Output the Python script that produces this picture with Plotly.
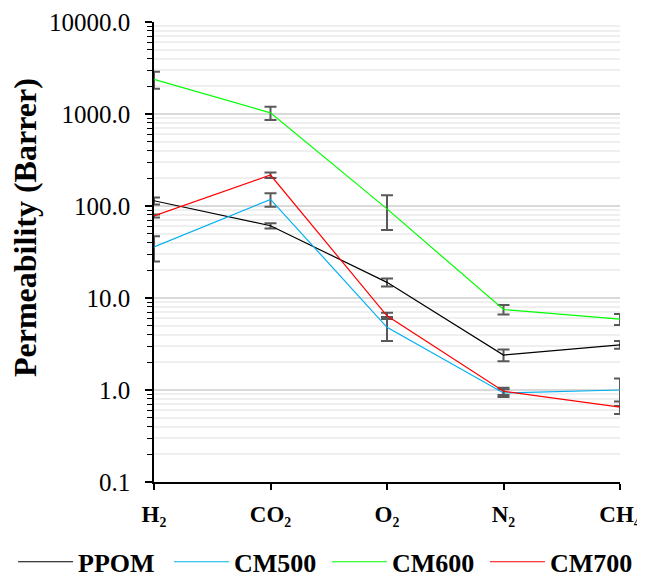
import plotly.graph_objects as go

gases = ["H₂", "CO₂", "O₂", "N₂", "CH₄"]

ppom = [114, 61, 14.8, 2.4, 3.1]
ppom_err = [10, 4, 1.5, 0.35, 0.3]

cm500 = [36, 118, 4.8, 0.93, 1.0]
cm500_err = [11, 20, 1.4, 0.09, 0.33]

cm600 = [2380, 1030, 93, 7.5, 5.9]
cm600_err = [500, 170, 38, 0.9, 0.8]

cm700 = [78, 217, 6.4, 0.97, 0.65]
cm700_err = [3, 15, 0.5, 0.09, 0.1]

series = [
    ("PPOM", ppom, ppom_err, "#000000"),
    ("CM500", cm500, cm500_err, "#00B0F0"),
    ("CM600", cm600, cm600_err, "#00FF00"),
    ("CM700", cm700, cm700_err, "#FF0000"),
]

FONT = "Liberation Serif, Times New Roman, serif"
legend_ids = ["legend", "legend2", "legend3", "legend4"]
legend_x = [0.0079, 0.2527, 0.5008, 0.7488]

fig = go.Figure()
for (name, vals, errs, col), lid in zip(series, legend_ids):
    fig.add_trace(go.Scatter(
        x=gases, y=vals, name=name, mode="lines",
        line=dict(color=col, width=1.2),
        error_y=dict(type="data", array=errs, visible=True,
                     color="#595959", thickness=2, width=6),
        legend=lid,
    ))

# page body has an 8px margin: figure is 637x571 drawn at (8, 8)
fig.update_layout(
    width=637, height=571,
    margin=dict(l=146, r=25, t=14, b=97, autoexpand=False),
    paper_bgcolor="white", plot_bgcolor="white",
    font=dict(family=FONT, color="black", size=24),
    showlegend=True,
)
for lid, lx in zip(legend_ids, legend_x):
    fig.update_layout({lid: dict(
        orientation="h", xref="container", yref="container",
        x=lx, xanchor="left", y=0.03, yanchor="middle",
        bgcolor="rgba(0,0,0,0)",
        font=dict(family=FONT, size=26, color="black", weight="bold"),
        itemwidth=55,
    )})

fig.update_xaxes(
    type="category", range=[0, 4], automargin=False,
    showline=True, linecolor="black", linewidth=1.5,
    ticks="outside", ticklen=6, tickcolor="black", tickwidth=1.5,
    showgrid=False, zeroline=False,
    tickfont=dict(family=FONT, size=23, color="black", weight="bold"),
    ticklabelstandoff=5,
)

fig.update_yaxes(
    type="log", range=[-1, 4], dtick=1, tickformat=".1f", automargin=False,
    showline=True, linecolor="black", linewidth=1.5,
    ticks="outside", ticklen=7, tickcolor="black", tickwidth=1.5,
    showgrid=True, gridcolor="#d9d9d9", gridwidth=2,
    zeroline=False,
    tickfont=dict(family=FONT, size=25, color="black"),
    ticklabelstandoff=10,
    minor=dict(ticks="outside", ticklen=5, tickcolor="black", tickwidth=1.2,
               showgrid=True, gridcolor="#efefef", gridwidth=1.5, dtick="D1"),
)

# y-axis title (centred a little above the plot middle, as in the reference)
fig.add_annotation(
    text="<b>Permeability (Barrer)</b>", textangle=-90,
    xref="paper", yref="paper", x=(25 - 154) / 466, y=(482 - 228) / 460,
    xanchor="center", yanchor="middle", showarrow=False,
    font=dict(family=FONT, size=32, color="black"),
)

fig.write_html("out.html")
